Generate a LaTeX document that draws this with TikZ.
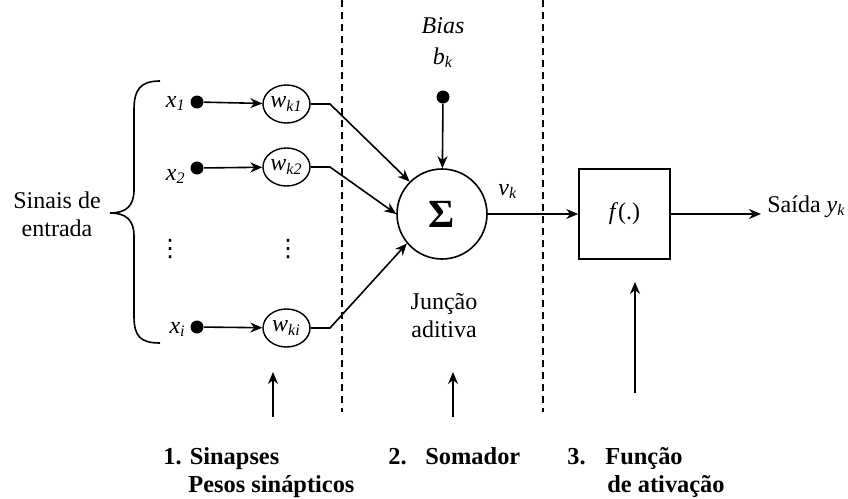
\documentclass[tikz,border=0pt]{standalone}
\usepackage{fontspec}
\setmainfont{Liberation Serif}
\newfontfamily\symfont{DejaVu Sans}
\usetikzlibrary{arrows.meta,shapes.geometric}
\tikzset{
  ln/.style={line width=0.8pt},
  arr/.style={ln,-{Stealth[length=6pt,width=5pt]}},
  dotn/.style={circle,fill=black,minimum size=6.5pt,inner sep=0pt},
  lbl/.style={font=\fontsize{12}{14}\selectfont,inner sep=0pt},
  wnode/.style={lbl,ellipse,draw,line width=0.7pt,minimum width=23.5pt,minimum height=19pt,inner sep=0pt},
  sep/.style={dash pattern=on 3.5pt off 2.5pt,line width=0.6pt},
  blbl/.style={font=\fontsize{12.2}{14}\selectfont\bfseries,inner sep=0pt,anchor=base west},
}
\begin{document}
\begin{tikzpicture}[x=0.5pt,y=-0.5pt]
\useasboundingbox (0,0) rectangle (848,499);
% separators
\draw[sep] (342,0) -- (342,412);
\draw[sep] (543,0) -- (543,412);
% brace
\draw[ln] (160,81) .. controls (140,81) and (134,90) .. (134,110) -- (134,190) .. controls (134,206) and (126,213) .. (110,213) .. controls (126,213) and (134,220) .. (134,236) -- (134,316) .. controls (134,336) and (140,343) .. (160,343);
\node[lbl,align=center] (sig) at (57,214) {Sinais de\\entrada};
% inputs
\node[dotn] (d1) at (197,102) {};
\node[dotn] (d2) at (197,168) {};
\node[dotn] (di) at (197,327) {};
\node[lbl,anchor=base east] (x1) at (186,107) {\textit{x}\textsubscript{\textit{1}}};
\node[lbl,anchor=base east] (x2) at (186,180) {\textit{x}\textsubscript{\textit{2}}};
\node[lbl,anchor=base east] (xi) at (186,333) {\textit{x}\textsubscript{\textit{i}}};
\node[lbl,font=\symfont\fontsize{12}{14}\selectfont] (vd1) at (170,249) {⋮};
\node[lbl,font=\symfont\fontsize{12}{14}\selectfont] (vd2) at (288,249) {⋮};
% weights
\node[wnode] (w1) at (286.5,104) {\raisebox{2pt}{\textit{w}\textsubscript{\textit{k1}}}};
\node[wnode] (w2) at (286.5,167) {\raisebox{2pt}{\textit{w}\textsubscript{\textit{k2}}}};
\node[wnode] (wi) at (286.5,328) {\raisebox{2pt}{\textit{w}\textsubscript{\textit{ki}}}};
\draw[arr] (d1) -- (w1);
\draw[arr] (d2) -- (w2);
\draw[arr] (di) -- (wi);
% summation
\node[circle,draw,line width=0.8pt,minimum size=45pt,inner sep=0pt] (S) at (442,214) {\fontsize{20}{20}\selectfont\textbf{Σ}};
\coordinate (b1) at (330,104);
\coordinate (b2) at (330,167);
\coordinate (bi) at (330,328);
\draw[arr] (w1.east) -- (b1) -- (S.135);
\draw[arr] (w2.east) -- (b2) -- (S.180);
\draw[arr] (wi.east) -- (bi) -- (S.220);
% bias
\node[lbl,anchor=base] (bias) at (443,33) {\textit{Bias}};
\node[lbl,anchor=base] (bk) at (443,64) {\textit{b}\textsubscript{\textit{k}}};
\node[dotn] (bd) at (443,97) {};
\draw[arr] (bd) -- (S);
\node[lbl,anchor=base west] (vk) at (498,195) {\textit{v}\textsubscript{\textit{k}}};
\node[lbl,align=center] (jun) at (444,316) {Junção\\aditiva};
% activation
\node[draw,line width=0.8pt,minimum width=45.5pt,minimum height=45pt,inner sep=0pt] (f) at (624.5,214) {\fontsize{12}{14}\selectfont\textit{f}(.)};
\draw[arr] (S) -- (f);
\coordinate (outend) at (761,214);
\draw[arr] (f) -- (outend);
\node[lbl,anchor=base west] (sai) at (767,212) {Saída \textit{y}\textsubscript{\textit{k}}};
% bottom arrows
\coordinate (a1s) at (273,417); \coordinate (a1e) at (273,372);
\coordinate (a2s) at (453,417); \coordinate (a2e) at (453,372);
\coordinate (a3s) at (635,393); \coordinate (a3e) at (635,282);
\draw[arr] (a1s) -- (a1e);
\draw[arr] (a2s) -- (a2e);
\draw[arr] (a3s) -- (a3e);
% bottom labels
\node[blbl] (l1a) at (163,464) {1. Sinapses};
\node[blbl] (l1b) at (188,492) {Pesos sinápticos};
\node[blbl] (l2a) at (388,464) {2.};
\node[blbl] (l2b) at (425,464) {Somador};
\node[blbl] (l3a) at (567,464) {3.};
\node[blbl] (l3b) at (605,464) {Função};
\node[blbl] (l3c) at (607,492) {de ativação};
\end{tikzpicture}
\end{document}
